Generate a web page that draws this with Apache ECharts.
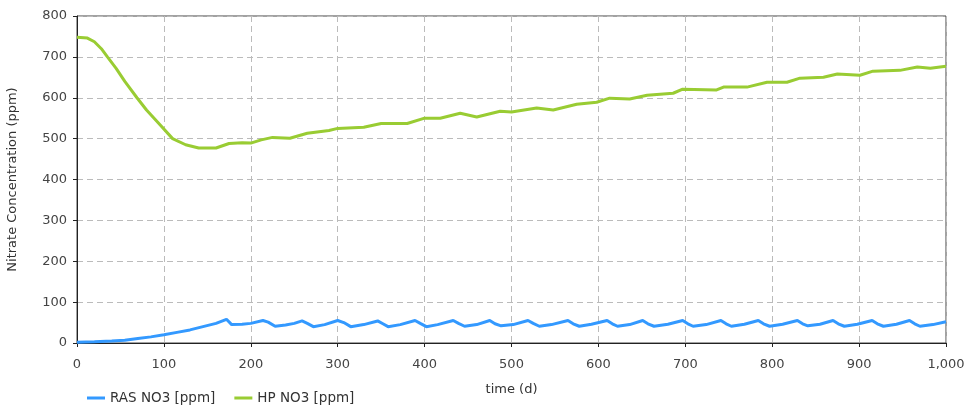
<!DOCTYPE html>
<html>
<head>
<meta charset="utf-8">
<script src="https://cdn.jsdelivr.net/npm/echarts@6/dist/echarts.min.js"></script>
<style>
  html, body { margin: 0; padding: 0; background: #fff; }
  #chart { width: 972px; height: 411px; }
</style>
</head>
<body>
<div id="chart"></div>
<script>
// series names
const seriesNames = ['RAS NO3 [ppm]', 'HP NO3 [ppm]']

// RAS NO3 [ppm] : [time (d), value]
const rasNO3 = [
  [0, 2], [20, 3], [40, 5], [55, 7], [70, 11], [85, 15], [100, 20], [115, 26], [130, 32],
  [145, 40], [160, 48], [172, 58], [178, 45], [190, 46], [200, 48], [214, 55], [220, 51],
  [228, 41], [240, 44], [250, 48], [259, 54], [265, 48], [272, 40], [285, 45], [300, 55],
  [307, 50], [315, 40], [330, 45], [346, 54], [352, 47], [358, 40], [372, 45], [389, 55],
  [395, 48], [402, 40], [415, 45], [433, 55], [439, 48], [446, 41], [460, 45], [475, 55],
  [481, 47], [488, 42], [502, 45], [519, 55], [525, 48], [532, 41], [546, 45], [565, 55],
  [571, 47], [578, 41], [592, 46], [610, 55], [616, 47], [622, 41], [636, 45], [651, 55],
  [657, 47], [664, 41], [680, 46], [697, 55], [703, 47], [709, 41], [724, 45], [741, 55],
  [747, 47], [753, 41], [768, 46], [784, 55], [790, 47], [797, 41], [812, 46], [829, 55],
  [835, 47], [841, 42], [855, 46], [870, 55], [876, 47], [883, 41], [898, 46], [915, 55],
  [921, 47], [928, 41], [943, 46], [958, 55], [964, 47], [970, 41], [985, 45], [1000, 52]
]

// HP NO3 [ppm] : [time (d), value]
const hpNO3 = [
  [0, 748], [12, 746], [20, 737], [28, 720], [35, 700], [45, 672], [55, 640], [69, 600],
  [80, 570], [95, 535], [110, 500], [125, 485], [140, 477], [160, 477], [175, 488], [190, 490],
  [200, 489], [212, 497], [225, 503], [245, 501], [265, 513], [290, 520], [300, 525], [330, 528],
  [350, 537], [380, 537], [400, 550], [418, 550], [441, 562], [460, 553], [487, 567], [500, 565],
  [529, 575], [548, 570], [575, 584], [598, 589], [613, 599], [636, 597], [656, 606], [686, 611],
  [697, 621], [736, 619], [744, 626], [771, 626], [794, 638], [817, 638], [832, 648], [859, 650],
  [875, 658], [901, 655], [916, 665], [947, 667], [967, 675], [982, 672], [1000, 677]
]

const colors = ['#3399ff', '#99cc33']
const font = 'DejaVu Sans'

const chart = echarts.init(document.getElementById('chart'))
const option = {
  animation: false,
  color: colors,
  textStyle: { fontFamily: font },
  grid: {
    left: 77, right: 26, top: 16, bottom: 68,
    outerBoundsMode: 'none',
    containLabel: false,
    show: true, borderColor: '#444', borderWidth: 1
  },
  legend: {
    left: 82, bottom: 1,
    itemWidth: 18, itemHeight: 3, itemGap: 19,
    icon: 'rect',
    textStyle: { fontSize: 13.5, color: '#333', fontFamily: font },
    data: seriesNames
  },
  xAxis: {
    type: 'value', min: 0, max: 1000, interval: 100,
    name: 'time (d)', nameLocation: 'middle', nameGap: 40,
    nameTextStyle: { fontSize: 13, color: '#333' },
    axisLine: { lineStyle: { color: '#222' } },
    axisTick: { show: true, length: 4, lineStyle: { color: '#222' } },
    axisLabel: {
      fontSize: 13, color: '#444', margin: 15,
      formatter: v => v >= 1000 ? String(v).replace(/\B(?=(\d{3})+(?!\d))/g, ',') : String(v)
    },
    splitLine: { show: true, lineStyle: { color: '#bbb', type: [6, 4] } }
  },
  yAxis: {
    type: 'value', min: 0, max: 800, interval: 100,
    name: 'Nitrate Concentration (ppm)', nameLocation: 'middle', nameGap: 58,
    nameTextStyle: { fontSize: 13, color: '#333' },
    axisLine: { show: true, lineStyle: { color: '#222' } },
    axisTick: { show: true, length: 4, lineStyle: { color: '#222' } },
    axisLabel: { fontSize: 13, color: '#444', margin: 10 },
    splitLine: { show: true, lineStyle: { color: '#bbb', type: [6, 4] } }
  },
  series: [
    {
      name: seriesNames[0], type: 'line', data: rasNO3,
      showSymbol: false, lineStyle: { width: 3, color: colors[0] }
    },
    {
      name: seriesNames[1], type: 'line', data: hpNO3,
      showSymbol: false, lineStyle: { width: 3, color: colors[1] }
    }
  ]
}
chart.setOption(option)
</script>
</body>
</html>
